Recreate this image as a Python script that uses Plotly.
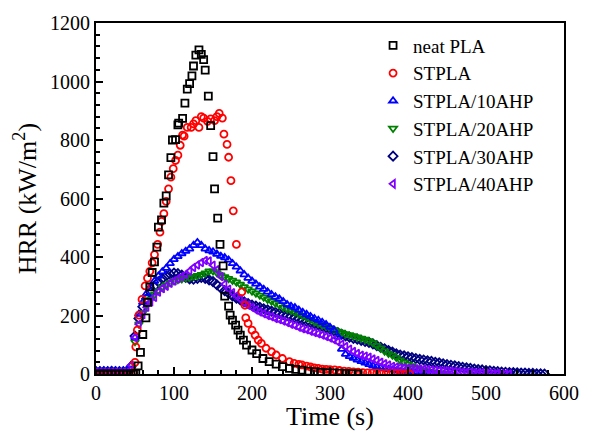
import plotly.graph_objects as go

# ---------------- data ----------------
neat_t = [0, 5, 10, 15, 20, 25, 30, 35, 40, 45, 48, 51, 54, 57, 60, 64, 66, 69, 72, 75, 78, 80, 84, 87, 90, 93,
          96, 98, 102, 105, 106, 111, 114, 117, 120, 123, 125, 128, 132, 135, 138, 140, 144, 147, 150, 152, 156,
          159, 163, 165, 170, 172, 175, 179, 182, 185, 189, 193, 200, 206, 214, 222, 231, 239, 248, 256, 264,
          272, 280, 288, 296, 304, 312, 320, 328, 336]
neat_hrr = [0, 0, 0, 0, 0, 0, 0, 0, 0, 0, 0, 2, 28, 74, 135, 192, 245, 298, 347, 383, 434, 502, 527, 584, 609, 681,
            740, 800, 801, 852, 858, 874, 926, 974, 993, 1019, 1053, 1090, 1108, 1093, 1075, 1039, 950, 849, 743,
            633, 533, 443, 370, 266, 232, 201, 184, 167, 150, 133, 116, 99, 82, 70, 53, 42, 34, 25, 19, 16, 13,
            10, 8, 6, 5, 4, 3, 2, 1, 0]

stpla_t = [0, 5, 10, 15, 20, 25, 30, 35, 40, 45, 48, 50, 51, 53, 55, 59, 63, 66, 69, 72, 75, 79, 82, 84, 87, 90,
           93, 96, 99, 102, 105, 108, 111, 113, 117, 122, 125, 128, 132, 135, 138, 143, 147, 152, 155, 158, 162,
           164, 168, 170, 173, 176, 180, 187, 191, 192, 195, 200, 204, 208, 212, 218, 225, 231, 239, 248, 254,
           260, 264, 270, 275, 280, 285, 290, 295, 300, 306, 312, 318, 324, 330, 336, 342, 348, 354, 360, 366,
           372, 378, 384, 390, 396, 402]
stpla_hrr = [0, 0, 0, 0, 0, 0, 0, 0, 0, 0, 5, 40, 93, 150, 201, 255, 301, 328, 351, 380, 408, 443, 485, 522, 548,
             590, 633, 673, 702, 730, 748, 782, 817, 813, 843, 843, 855, 866, 843, 880, 875, 864, 872, 866, 880,
             891, 875, 820, 785, 741, 661, 558, 443, 281, 235, 192, 173, 150, 133, 116, 105, 88, 76, 65, 53, 42,
             36, 33, 31, 27, 24, 21, 19, 17, 16, 15, 14, 12, 10, 9, 7, 6, 5, 4, 3, 3, 2, 2, 1, 1, 1, 0, 0]

ahp10_t = list(range(0, 435, 5))
ahp10_hrr = [10, 10, 11, 10, 10, 11, 10, 10, 11, 30, 125, 205, 245, 275, 298, 318, 335, 350, 362, 378, 392, 402,
             412, 420, 428, 440, 450, 440, 428, 422, 418, 410, 403, 398, 390, 378, 366, 353, 340, 328, 318, 308,
             298, 290, 281, 272, 264, 257, 248, 238, 232, 227, 219, 211, 204, 197, 190, 184, 177, 169, 160, 150,
             127, 85, 68, 60, 54, 48, 43, 38, 33, 28, 24, 21, 18, 16, 14, 11, 9, 7, 5, 4, 3, 2, 1, 1, 0]

ahp20_t = list(range(0, 455, 5))
ahp20_hrr = [6, 6, 7, 6, 6, 7, 6, 6, 7, 20, 110, 170, 210, 235, 255, 272, 285, 296, 305, 312, 318, 322, 325, 328,
             330, 333, 336, 340, 345, 352, 352, 346, 338, 332, 326, 320, 314, 306, 298, 290, 283, 276, 269, 262,
             255, 249, 242, 236, 228, 222, 217, 211, 205, 199, 193, 186, 179, 173, 167, 162, 156, 151, 146, 142,
             137, 134, 130, 126, 122, 118, 113, 106, 97, 88, 78, 70, 64, 56, 47, 40, 34, 28, 21, 16, 12, 9, 7, 5,
             3, 2, 1]

ahp30_t = list(range(0, 580, 5))
ahp30_hrr = [8, 8, 8, 8, 9, 8, 8, 8, 9, 25, 130, 190, 230, 258, 280, 300, 315, 326, 335, 341, 345, 343, 338, 330,
             325, 324, 327, 330, 327, 322, 316, 305, 294, 285, 276, 267, 259, 253, 247, 241, 236, 232, 228, 223,
             219, 215, 211, 207, 203, 199, 196, 192, 188, 184, 180, 176, 172, 168, 163, 158, 153, 148, 142, 136,
             130, 126, 122, 119, 115, 111, 108, 103, 97, 91, 86, 80, 75, 69, 65, 62, 59, 56, 53, 50, 48, 45, 43,
             40, 38, 35, 32, 30, 28, 25, 23, 21, 19, 17, 15, 14, 12, 11, 9, 8, 7, 6, 5, 5, 4, 3, 3, 2, 2, 1, 1, 0]

ahp40_t = list(range(0, 535, 5))
ahp40_hrr = [6, 6, 6, 6, 6, 6, 6, 6, 6, 30, 125, 170, 203, 228, 246, 262, 280, 292, 300, 310, 318, 326, 333, 340,
             352, 364, 373, 381, 388, 386, 372, 356, 333, 307, 290, 278, 267, 256, 244, 235, 227, 219, 212, 206,
             200, 196, 190, 186, 181, 176, 170, 166, 160, 155, 151, 146, 142, 138, 133, 128, 123, 117, 110, 102,
             94, 85, 77, 70, 64, 61, 57, 51, 46, 40, 35, 31, 26, 24, 22, 21, 20, 19, 18, 17, 16, 15, 14, 13, 12,
             11, 11, 10, 9, 8, 7, 6, 6, 5, 4, 4, 3, 3, 2, 2, 1, 1, 0]

x_ticks = [0, 100, 200, 300, 400, 500, 600]
y_ticks = [0, 200, 400, 600, 800, 1000, 1200]

FONT = "Liberation Serif, Times New Roman, serif"

# draw order bottom -> top; legendrank keeps neat PLA listed first
series = [
    ("STPLA/30AHP", ahp30_t, ahp30_hrr, "diamond-open", "#000080"),
    ("STPLA/20AHP", ahp20_t, ahp20_hrr, "triangle-down-open", "#008000"),
    ("STPLA/10AHP", ahp10_t, ahp10_hrr, "triangle-up-open", "#0000FF"),
    ("STPLA/40AHP", ahp40_t, ahp40_hrr, "triangle-left-open", "#8000FF"),
    ("STPLA", stpla_t, stpla_hrr, "circle-open", "#FF0000"),
    ("neat PLA", neat_t, neat_hrr, "square-open", "#000000"),
]
legend_rank = {"neat PLA": 1, "STPLA": 2, "STPLA/10AHP": 3, "STPLA/20AHP": 4,
               "STPLA/30AHP": 5, "STPLA/40AHP": 6}

fig = go.Figure()
for name, t, h, sym, col in series:
    fig.add_trace(go.Scatter(
        x=t, y=h, mode="markers", name=name,
        legendrank=legend_rank[name],
        marker=dict(symbol=sym, size=7, color=col, line=dict(color=col, width=1.8)),
    ))

axis_common = dict(
    showline=True, linecolor="black", linewidth=2, mirror=True,
    ticks="inside", ticklen=7, tickwidth=2, tickcolor="black",
    showgrid=False, zeroline=False,
    tickfont=dict(family=FONT, size=20, color="black"),
)

fig.update_xaxes(range=[0, 600], tickvals=x_ticks,
                 minor=dict(dtick=20, tick0=0, ticks="inside", ticklen=4, tickwidth=2, tickcolor="black"),
                 **axis_common)
fig.update_yaxes(range=[0, 1200], tickvals=y_ticks,
                 minor=dict(dtick=40, tick0=0, ticks="inside", ticklen=4, tickwidth=2, tickcolor="black"),
                 **axis_common)

fig.update_layout(
    width=591, height=431,
    margin=dict(l=96, r=17, t=22, b=57),
    paper_bgcolor="white", plot_bgcolor="white",
    font=dict(family=FONT, color="black"),
    showlegend=True,
    legend=dict(x=0.592, y=0.99, xanchor="left", yanchor="top",
                bgcolor="rgba(0,0,0,0)", borderwidth=0,
                font=dict(family=FONT, size=19, color="black"),
                itemsizing="trace", tracegroupgap=0),
    annotations=[
        dict(text="Time (s)", xref="paper", yref="paper", x=0.5, y=-0.122,
             xanchor="center", yanchor="middle", showarrow=False,
             font=dict(family=FONT, size=26, color="black")),
        dict(text="HRR (kW/m<sup>2</sup>)", xref="paper", yref="paper", x=-0.150, y=0.5,
             xanchor="center", yanchor="middle", showarrow=False, textangle=-90,
             font=dict(family=FONT, size=26, color="black")),
    ],
)

fig.write_html("out.html")
